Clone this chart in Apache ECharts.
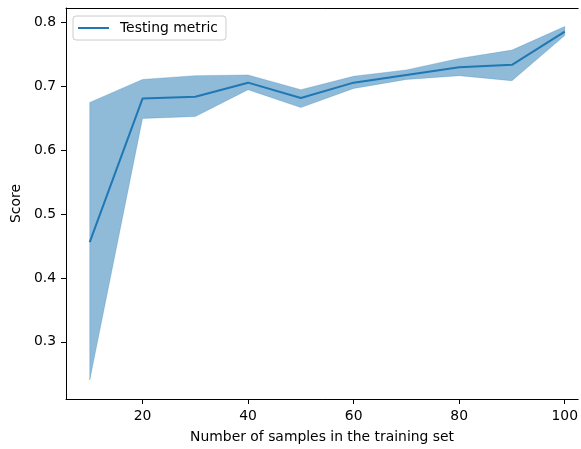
<!DOCTYPE html>
<html>
<head>
<meta charset="utf-8">
<script src="https://cdn.jsdelivr.net/npm/echarts@6/dist/echarts.min.js"></script>
<style>
html,body{margin:0;padding:0;background:#fff;}
#chart{width:581px;height:449px;}
</style>
</head>
<body>
<div id="chart"></div>
<script>
var sampleSizes = [10, 20, 30, 40, 50, 60, 70, 80, 90, 100];
var meanScore  = [0.456, 0.681, 0.684, 0.706, 0.682, 0.706, 0.718, 0.730, 0.734, 0.786];
var upperScore = [0.675, 0.711, 0.717, 0.718, 0.695, 0.716, 0.726, 0.744, 0.757, 0.794];
var lowerScore = [0.240, 0.650, 0.653, 0.695, 0.667, 0.697, 0.711, 0.717, 0.709, 0.780];
var xTicks = [20, 40, 60, 80, 100];
var yTicks = [0.3, 0.4, 0.5, 0.6, 0.7, 0.8];

var FONT = 'DejaVu Sans';
var bandData = sampleSizes.map(function (x, i) { return [x, lowerScore[i], upperScore[i]]; });
var meanData = sampleSizes.map(function (x, i) { return [x, meanScore[i]]; });

function renderBand(params, api) {
  if (params.dataIndex !== 0) return null;
  var pts = [];
  var i;
  for (i = 0; i < sampleSizes.length; i++) pts.push(api.coord([sampleSizes[i], upperScore[i]]));
  for (i = sampleSizes.length - 1; i >= 0; i--) pts.push(api.coord([sampleSizes[i], lowerScore[i]]));
  return {
    type: 'polygon',
    shape: {points: pts},
    style: {fill: 'rgba(31,119,180,0.5)', stroke: 'rgba(31,119,180,0.5)', lineWidth: 0.5}
  };
}

var axisFont = {fontFamily: FONT, fontSize: 13.9, color: '#000'};
var chart = echarts.init(document.getElementById('chart'), null, {renderer: 'canvas'});
chart.setOption({
  animation: false,
  backgroundColor: '#fff',
  textStyle: {fontFamily: FONT},
  grid: {left: 66, top: 8, right: 0, bottom: 50, show: false, containLabel: false},
  legend: {
    data: ['Testing metric'],
    left: 73, top: 16,
    padding: [5, 8, 5, 5],
    borderColor: '#cccccc', borderWidth: 1, borderRadius: 3,
    backgroundColor: 'rgba(255,255,255,0.8)',
    itemWidth: 37, itemHeight: 2,
    icon: 'path://M0,0 L31,0 L31,2 L0,2 Z M37,0 L37,2 L37,0 Z',
    textStyle: {fontFamily: FONT, fontSize: 13.9, color: '#000'}
  },
  xAxis: [{
    type: 'value', min: 5.5, max: 102.54,
    name: 'Number of samples in the training set',
    nameLocation: 'middle', nameGap: 31,
    nameTextStyle: axisFont,
    splitLine: {show: false},
    axisLine: {show: true, onZero: false, lineStyle: {color: '#000', width: 1}},
    axisTick: {show: true, length: 5, lineStyle: {color: '#000', width: 1}, customValues: xTicks},
    axisLabel: Object.assign({margin: 10.5, customValues: xTicks}, axisFont)
  }, {
    type: 'value', min: 5.5, max: 102.54, position: 'top',
    splitLine: {show: false},
    axisLine: {show: true, onZero: false, lineStyle: {color: '#000', width: 1}},
    axisTick: {show: false}, axisLabel: {show: false}
  }],
  yAxis: {
    type: 'value', min: 0.2103, max: 0.8230,
    name: 'Score',
    nameLocation: 'middle', nameGap: 41, nameRotate: 90,
    nameTextStyle: axisFont,
    splitLine: {show: false},
    axisLine: {show: true, onZero: false, lineStyle: {color: '#000', width: 1}},
    axisTick: {show: true, length: 5, lineStyle: {color: '#000', width: 1}, customValues: yTicks},
    axisLabel: Object.assign({margin: 10, customValues: yTicks,
      formatter: function (v) { return v.toFixed(1); }}, axisFont)
  },
  series: [
    {
      name: 'band', type: 'custom', data: bandData,
      encode: {x: 0, y: [1, 2]},
      renderItem: renderBand, silent: true, z: 1
    },
    {
      name: 'Testing metric', type: 'line', data: meanData,
      symbol: 'none', color: '#1f77b4', z: 2,
      lineStyle: {color: '#1f77b4', width: 2}
    }
  ]
});
</script>
</body>
</html>
